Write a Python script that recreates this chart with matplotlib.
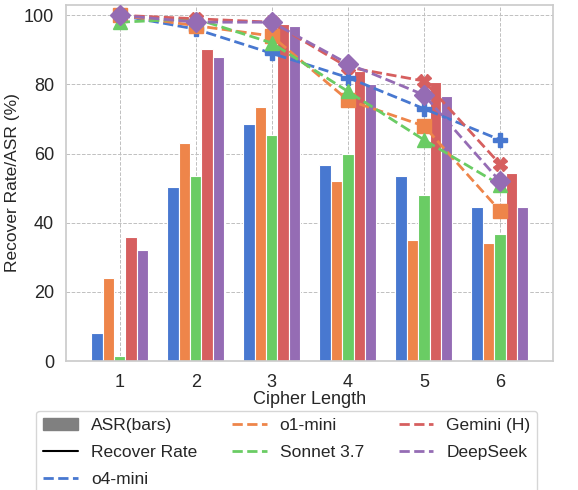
import numpy as np
import matplotlib
matplotlib.use("Agg")
import matplotlib.pyplot as plt
import seaborn as sns
from matplotlib.patches import Patch
from matplotlib.lines import Line2D

sns.set_theme(style="whitegrid")
plt.rcParams['font.family'] = ['Liberation Sans', 'DejaVu Sans']

cipher_length = [1, 2, 3, 4, 5, 6]
models = ["o4-mini", "o1-mini", "Sonnet 3.7", "Gemini (H)", "DeepSeek"]

# ASR values (bars)
asr_o4 = [8, 50.3, 68.7, 56.7, 53.5, 44.7]
asr_o1 = [24, 63, 73.5, 52, 35, 34.3]
asr_sonnet = [1.5, 53.5, 65.5, 60, 48, 36.7]
asr_gemini = [36, 90.3, 97.5, 84, 80.7, 54.3]
asr_deepseek = [32, 88, 96.8, 80, 76.7, 44.7]

# Recover rate (lines)
rec_o4 = [100, 96, 89, 82, 73, 64]
rec_o1 = [100, 97, 94, 75.5, 68, 43.5]
rec_sonnet = [98, 99, 92, 78, 64, 51]
rec_gemini = [100, 99, 98, 85, 81, 57]
rec_deepseek = [100, 98, 98, 86, 77, 52]

asr = [asr_o4, asr_o1, asr_sonnet, asr_gemini, asr_deepseek]
rec = [rec_o4, rec_o1, rec_sonnet, rec_gemini, rec_deepseek]
colors = sns.color_palette("muted", 5)
markers = ["P", "s", "^", "X", "D"]

fig = plt.figure(figsize=(5.78, 4.9), dpi=100)
ax = fig.add_axes([0.115, 0.263, 0.842, 0.727])

x = np.array(cipher_length)
width = 0.15
for i in range(5):
    ax.bar(x + (i - 2) * width, asr[i], width, color=colors[i],
           edgecolor="white", linewidth=0.8, zorder=2)

for i in range(5):
    ax.plot(x, rec[i], linestyle="--", color=colors[i], linewidth=2,
            marker=markers[i], markersize=10, zorder=3)

ax.set_xlim(0.3, 6.7)
ax.set_ylim(0, 103)
ax.set_xticks(cipher_length)
ax.set_yticks([0, 20, 40, 60, 80, 100])
ax.tick_params(labelsize=13, pad=3)
ax.set_xlabel("Cipher Length", fontsize=13, labelpad=0)
ax.set_ylabel("Recover Rate/ASR (%)", fontsize=12.5, labelpad=3)
ax.grid(True, linestyle="--", linewidth=0.7, color="#c0c0c0", zorder=0)
ax.set_axisbelow(True)
for s in ax.spines.values():
    s.set_color("#cccccc")

handles = [Patch(color="gray", label="ASR(bars)"),
           Line2D([], [], color="black", linewidth=1.5, label="Recover Rate")]
for i in range(5):
    handles.append(Line2D([], [], color=colors[i], linestyle="--",
                          linewidth=2, label=models[i]))
ax.legend(handles=handles, loc="upper left", bbox_to_anchor=(-0.08, -0.115),
          ncol=3, fontsize=12.5, frameon=True, handlelength=2.0,
          handletextpad=0.75, columnspacing=2.0, labelspacing=0.68,
          borderpad=0.4)

fig.savefig("out.png", dpi=100)
